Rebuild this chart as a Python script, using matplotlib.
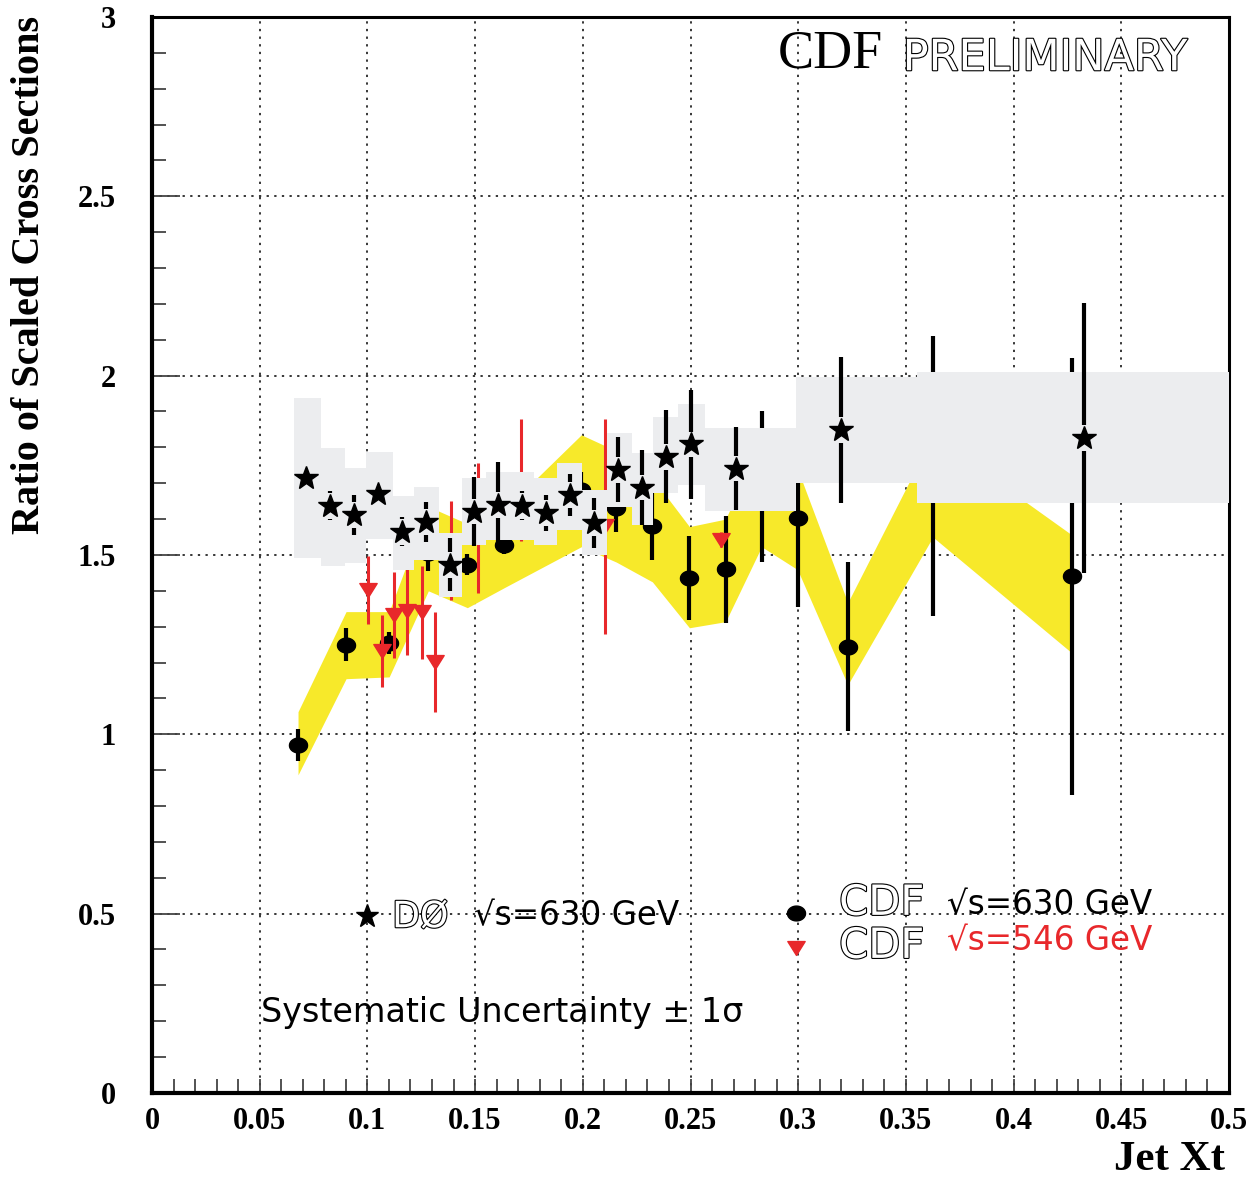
import numpy as np
import matplotlib
matplotlib.use("Agg")
import matplotlib.pyplot as plt
import matplotlib.path as mpath
import matplotlib.patheffects as pe
from matplotlib.ticker import MultipleLocator

# D0 sqrt(s)=630 GeV (stars) and its systematic band (grey boxes)
d0_x = [0.0716, 0.0827, 0.0939, 0.1050, 0.1161, 0.1273, 0.1385, 0.1496, 0.1608, 0.1720,
        0.1831, 0.1942, 0.2054, 0.2165, 0.2277, 0.2388, 0.2500, 0.2709, 0.3197, 0.4326]
d0_y = [1.715, 1.637, 1.612, 1.671, 1.565, 1.593, 1.473, 1.621, 1.640, 1.637,
        1.618, 1.668, 1.590, 1.738, 1.688, 1.774, 1.808, 1.741, 1.849, 1.827]
d0_err = [0.02, 0.04, 0.055, 0.02, 0.04, 0.056, 0.074, 0.095, 0.12, 0.04,
          0.05, 0.058, 0.07, 0.09, 0.105, 0.13, 0.153, 0.115, 0.204, 0.376]
d0_sys_edges = [0.066, 0.0785, 0.0897, 0.0994, 0.112, 0.1217, 0.1334, 0.144, 0.155, 0.166, 0.1775,
                0.188, 0.1998, 0.2114, 0.223, 0.2328, 0.244, 0.2565, 0.299, 0.355, 0.5]
d0_sys_lo = [1.492, 1.470, 1.478, 1.545, 1.459, 1.487, 1.384, 1.529, 1.543, 1.543,
             1.529, 1.570, 1.501, 1.635, 1.584, 1.674, 1.696, 1.623, 1.702, 1.646]
d0_sys_hi = [1.939, 1.799, 1.743, 1.788, 1.665, 1.690, 1.562, 1.715, 1.732, 1.732,
             1.715, 1.757, 1.682, 1.841, 1.785, 1.886, 1.922, 1.855, 1.997, 2.011]

# CDF sqrt(s)=630 GeV (circles) and its systematic band (yellow)
cdf630_x = [0.0678, 0.0901, 0.1101, 0.1283, 0.1464, 0.1636, 0.1993, 0.2156,
            0.2323, 0.2495, 0.2663, 0.2830, 0.2997, 0.3230, 0.3625, 0.4270]
cdf630_y = [0.971, 1.250, 1.255, 1.506, 1.473, 1.529, 1.680, 1.632,
            1.580, 1.436, 1.460, 1.690, 1.604, 1.244, 1.720, 1.440]
cdf630_err = [0.045, 0.047, 0.03, 0.05, 0.03, 0.025, 0.05, 0.067,
              0.095, 0.117, 0.15, 0.21, 0.25, 0.236, 0.39, 0.61]
cdf630_sys_lo = [0.887, 1.155, 1.160, 1.400, 1.353, 1.409, 1.523, 1.480,
                 1.425, 1.297, 1.314, 1.523, 1.459, 1.138, 1.550, 1.227]
cdf630_sys_hi = [1.063, 1.342, 1.342, 1.635, 1.587, 1.626, 1.835, 1.790,
                 1.715, 1.579, 1.600, 1.820, 1.740, 1.367, 1.833, 1.556]

# CDF sqrt(s)=546 GeV (red triangles)
cdf546_x = [0.1004, 0.1069, 0.1125, 0.1185, 0.1255, 0.1315, 0.1390, 0.1515, 0.1714, 0.2104, 0.2643]
cdf546_y = [1.403, 1.233, 1.333, 1.345, 1.340, 1.202, 1.513, 1.575, 1.710, 1.580, 1.543]
cdf546_err = [0.095, 0.10, 0.12, 0.125, 0.13, 0.14, 0.138, 0.18, 0.17, 0.30, 0.02]

GREY = "#ecedef"
YELLOW = "#f7e92a"
RED = "#e8282b"

# markers: squashed ellipse and flat down-triangle like the PAW ones
t = np.linspace(0, 2 * np.pi, 60)
ellipse = mpath.Path(np.column_stack([np.cos(t), 0.82 * np.sin(t)]), closed=True)
tri_down = mpath.Path([(-1, 0.8), (1, 0.8), (0, -0.8), (-1, 0.8)], closed=True)

serif_bold = {"family": "Liberation Serif", "weight": "bold"}
sans = ["DejaVu Sans"]
hollow = [pe.Stroke(linewidth=1.6, foreground="black"), pe.Normal()]

fig = plt.figure(figsize=(12.55, 11.78), dpi=100)
ax = fig.add_axes([0.1211, 0.0722, 0.8582, 0.9134])

# yellow band
ax.fill_between(cdf630_x, cdf630_sys_lo, cdf630_sys_hi, color=YELLOW, lw=0, zorder=1)

# CDF 630 points
ax.vlines(cdf630_x, np.subtract(cdf630_y, cdf630_err), np.add(cdf630_y, cdf630_err),
          color="black", lw=3, zorder=2)
ax.plot(cdf630_x, cdf630_y, ls="none", marker=ellipse, ms=13, color="black", zorder=2)

# CDF 546 points
ax.vlines(cdf546_x, np.subtract(cdf546_y, cdf546_err), np.add(cdf546_y, cdf546_err),
          color=RED, lw=2.2, zorder=2.5)
ax.plot(cdf546_x, cdf546_y, ls="none", marker=tri_down, ms=12.5, color=RED, zorder=2.5)

# grey D0 systematic boxes
edges = np.array(d0_sys_edges)
ax.bar(edges[:-1], np.subtract(d0_sys_hi, d0_sys_lo), bottom=d0_sys_lo, width=np.diff(edges),
       align="edge", color=GREY, lw=0, zorder=3)

# D0 stars, error bars leave a gap around the marker
gap = 0.036
x = np.array(d0_x)
y = np.array(d0_y)
e = np.array(d0_err)
m = e > gap
ax.vlines(x[m], y[m] + gap, y[m] + e[m], color="black", lw=3, zorder=4)
ax.vlines(x[m], y[m] - e[m], y[m] - gap, color="black", lw=3, zorder=4)
ax.plot(x, y, ls="none", marker="*", ms=18, color="black", zorder=4)

# legend (drawn in data coordinates)
ax.plot([0.1], [0.494], marker="*", ms=17, color="black", zorder=5)
ax.text(0.1115, 0.49, "DØ", fontsize=26, family=sans, color="white",
        path_effects=hollow, va="center", zorder=5)
ax.text(0.1495, 0.494, "√s=630 GeV", fontsize=23.5, family=sans, va="center", zorder=5)

ax.plot([0.2988], [0.502], marker=ellipse, ms=13, color="black", zorder=5)
ax.text(0.319, 0.53, "CDF", fontsize=30, family=sans, color="white",
        path_effects=hollow, va="center", zorder=5)
ax.text(0.369, 0.524, "√s=630 GeV", fontsize=23.5, family=sans, va="center", zorder=5)

ax.plot([0.2988], [0.405], marker=tri_down, ms=12.5, color=RED, zorder=5)
ax.text(0.319, 0.41, "CDF", fontsize=30, family=sans, color="white",
        path_effects=hollow, va="center", zorder=5)
ax.text(0.369, 0.424, "√s=546 GeV", fontsize=23.5, family=sans, color=RED, va="center", zorder=5)

ax.text(0.0505, 0.223, "Systematic Uncertainty ± 1σ", fontsize=24, family=sans,
        va="center", zorder=5)

ax.text(0.2905, 2.895, "CDF", fontsize=39, family="Liberation Serif", va="center", zorder=5)
ax.text(0.3485, 2.885, "PRELIMINARY", fontsize=31, family=sans, color="white",
        path_effects=hollow, va="center", zorder=5)

# axes, ticks, grid
ax.set_xlim(0, 0.5)
ax.set_ylim(0, 3)
ax.xaxis.set_minor_locator(MultipleLocator(0.01))
ax.yaxis.set_minor_locator(MultipleLocator(0.1))
ax.set_xticks(np.arange(0, 0.51, 0.05))
ax.set_xticklabels(["0", "0.05", "0.1", "0.15", "0.2", "0.25", "0.3", "0.35", "0.4", "0.45", "0.5"],
                   fontdict=serif_bold, fontsize=22)
ax.set_yticks(np.arange(0, 3.01, 0.5))
ax.set_yticklabels(["0", "0.5", "1", "1.5", "2", "2.5", "3"], fontdict=serif_bold, fontsize=22)
ax.tick_params(axis="x", which="major", direction="in", length=10, width=1.3, pad=10, color="#444444")
ax.tick_params(axis="x", which="minor", direction="in", length=10, width=1.3, color="#444444")
ax.tick_params(axis="y", which="major", direction="in", length=20, width=1.3, pad=26, color="#444444")
ax.tick_params(axis="y", which="minor", direction="in", length=10, width=1.3, color="#444444")
ax.set_axisbelow(True)
ax.grid(True, which="major", color="black", lw=1.1, linestyle=(0, (1.5, 3.5)))
for s in ["left", "bottom"]:
    ax.spines[s].set_linewidth(3)
for s in ["top", "right"]:
    ax.spines[s].set_linewidth(2.2)

fig.text(30 / 1255, 1 - 275 / 1178, "Ratio of Scaled Cross Sections", rotation=90,
         fontsize=29, va="center", ha="center", **serif_bold)
fig.text(1225 / 1255, 1 - 1160 / 1178, "Jet Xt", fontsize=31, ha="right", va="center", **serif_bold)

fig.savefig("out.png", dpi=100)
